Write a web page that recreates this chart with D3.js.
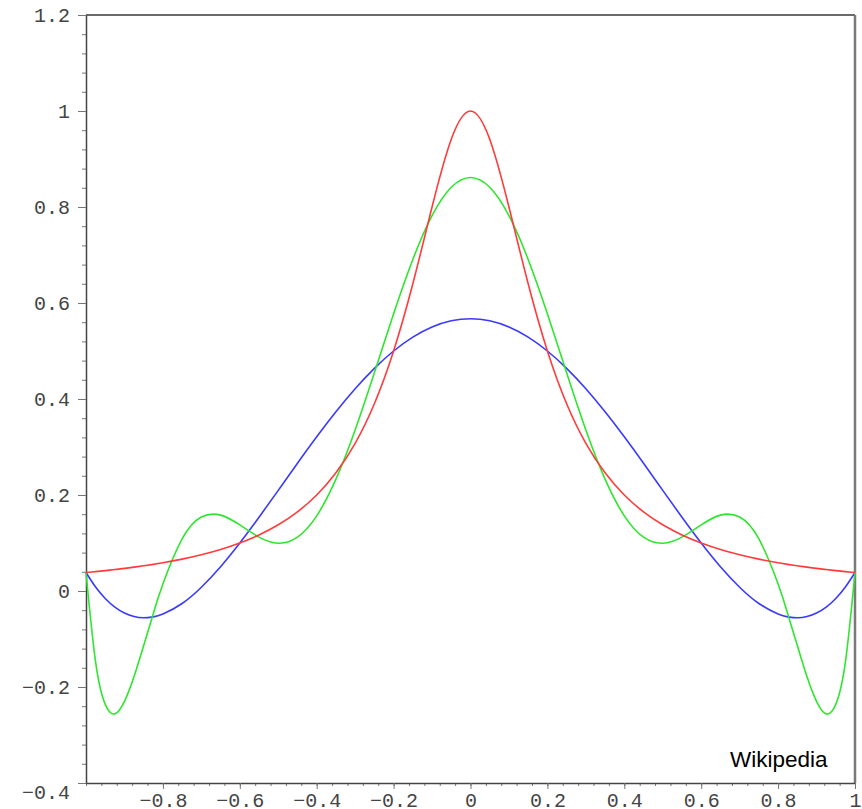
<!DOCTYPE html>
<html>
<head>
<meta charset="utf-8">
<script src="https://cdn.jsdelivr.net/npm/d3@7"></script>
<style>
  html, body { margin: 0; padding: 0; background: #fff; }
  svg { display: block; }
  .tick text { font-family: "Liberation Mono", "Courier New", monospace; font-size: 20px; fill: #444; }
</style>
</head>
<body>
<svg width="862" height="809"></svg>
<script>
// values (symmetric about x = 0)
const xValues = [-1, -0.975, -0.95, -0.925, -0.9, -0.875, -0.85, -0.825, -0.8, -0.75, -0.7, -0.65, -0.6,
  -0.55, -0.5, -0.45, -0.4, -0.35, -0.3, -0.25, -0.2, -0.15, -0.1, -0.05, 0,
  0.05, 0.1, 0.15, 0.2, 0.25, 0.3, 0.35, 0.4, 0.45, 0.5, 0.55, 0.6, 0.65, 0.7,
  0.75, 0.8, 0.825, 0.85, 0.875, 0.9, 0.925, 0.95, 0.975, 1];

const redHalf = [1, 0.9412, 0.8, 0.64, 0.5, 0.3902, 0.3077, 0.2462, 0.2, 0.1649, 0.1379, 0.1168, 0.1,
  0.0865, 0.0755, 0.0664, 0.0588, 0.0555, 0.0525, 0.0497, 0.0471, 0.0447, 0.0424, 0.0404, 0.0385];
const blueHalf = [0.5673, 0.563, 0.5501, 0.529, 0.5, 0.4638, 0.4213, 0.3733, 0.3212, 0.2661, 0.2097, 0.1537, 0.1,
  0.0506, 0.0078, -0.026, -0.0481, -0.0539, -0.0558, -0.0533, -0.046, -0.0337, -0.0157, 0.0082, 0.0385];
const greenHalf = [0.8615, 0.8411, 0.782, 0.6907, 0.5774, 0.4546, 0.3356, 0.233, 0.1566, 0.1122, 0.0995, 0.1122, 0.1377,
  0.1581, 0.154, 0.1084, 0.0146, -0.0473, -0.1137, -0.1782, -0.2299, -0.256, -0.2361, -0.1482, 0.0385];

const xTicks = [-0.8, -0.6, -0.4, -0.2, 0, 0.2, 0.4, 0.6, 0.8, 1];
const yTicks = [-0.4, -0.2, 0, 0.2, 0.4, 0.6, 0.8, 1, 1.2];

// mirror the half series onto the negative side
const full = half => half.slice(1).reverse().concat(half);
const series = [
  { values: full(blueHalf), color: "#3a3aff" },
  { values: full(greenHalf), color: "#2ee62e" },
  { values: full(redHalf), color: "#ff3b3b" }
];

const svg = d3.select("svg");
const plot = { left: 86, right: 855, top: 15, bottom: 783 };

const x = d3.scaleLinear().domain([-1, 1]).range([plot.left, plot.right]);
const y = d3.scaleLinear().domain([-0.4, 1.2]).range([plot.bottom, plot.top]);

const minor = (a, b) => d3.range(Math.round(a / 0.04), Math.round(b / 0.04) + 1).map(i => +(i * 0.04).toFixed(2));
const fmt = d => d3.format("")(d).replace("-", "\u2212");

// frame: top and right in grey
svg.append("line").attr("x1", plot.left).attr("x2", plot.right).attr("y1", plot.top).attr("y2", plot.top)
  .attr("stroke", "#6a6a6a").attr("stroke-width", 2);
svg.append("line").attr("x1", plot.right).attr("x2", plot.right).attr("y1", plot.top).attr("y2", plot.bottom)
  .attr("stroke", "#7a7a7a").attr("stroke-width", 2.5);

// minor ticks
svg.append("g").attr("transform", `translate(0,${plot.bottom})`)
  .call(d3.axisBottom(x).tickValues(minor(-1, 1)).tickSize(3).tickFormat(""))
  .call(g => g.select(".domain").remove())
  .selectAll("line").attr("stroke", "#777");
svg.append("g").attr("transform", `translate(${plot.left},0)`)
  .call(d3.axisLeft(y).tickValues(minor(-0.4, 1.2)).tickSize(4).tickFormat(""))
  .call(g => g.select(".domain").remove())
  .selectAll("line").attr("stroke", "#777");

// major ticks + labels
const xAxis = svg.append("g").attr("transform", `translate(0,${plot.bottom})`)
  .call(d3.axisBottom(x).tickValues(xTicks).tickSize(6).tickPadding(4).tickSizeOuter(0).tickFormat(fmt));
xAxis.select(".domain").attr("stroke", "#444").attr("stroke-width", 1.5);
xAxis.selectAll("line").attr("stroke", "#777");

const yAxis = svg.append("g").attr("transform", `translate(${plot.left},0)`)
  .call(d3.axisLeft(y).tickValues(yTicks).tickSize(8).tickPadding(8).tickSizeOuter(0).tickFormat(fmt));
yAxis.select(".domain").attr("stroke", "#444").attr("stroke-width", 1.5);
yAxis.selectAll("line").attr("stroke", "#777");
yAxis.selectAll(".tick").filter(d => d === -0.4).select("text").attr("y", 9);

// curves
const line = d3.line()
  .x((d, i) => x(xValues[i]))
  .y(d => y(d))
  .curve(d3.curveNatural);

svg.append("g").selectAll("path")
  .data(series)
  .join("path")
  .attr("d", s => line(s.values))
  .attr("fill", "none")
  .attr("stroke", s => s.color)
  .attr("stroke-width", 1.6);

svg.append("text")
  .attr("x", 730).attr("y", 767)
  .attr("font-family", "Liberation Sans, Arial, sans-serif")
  .attr("font-size", 22.5)
  .attr("fill", "#000")
  .text("Wikipedia");
</script>
</body>
</html>
